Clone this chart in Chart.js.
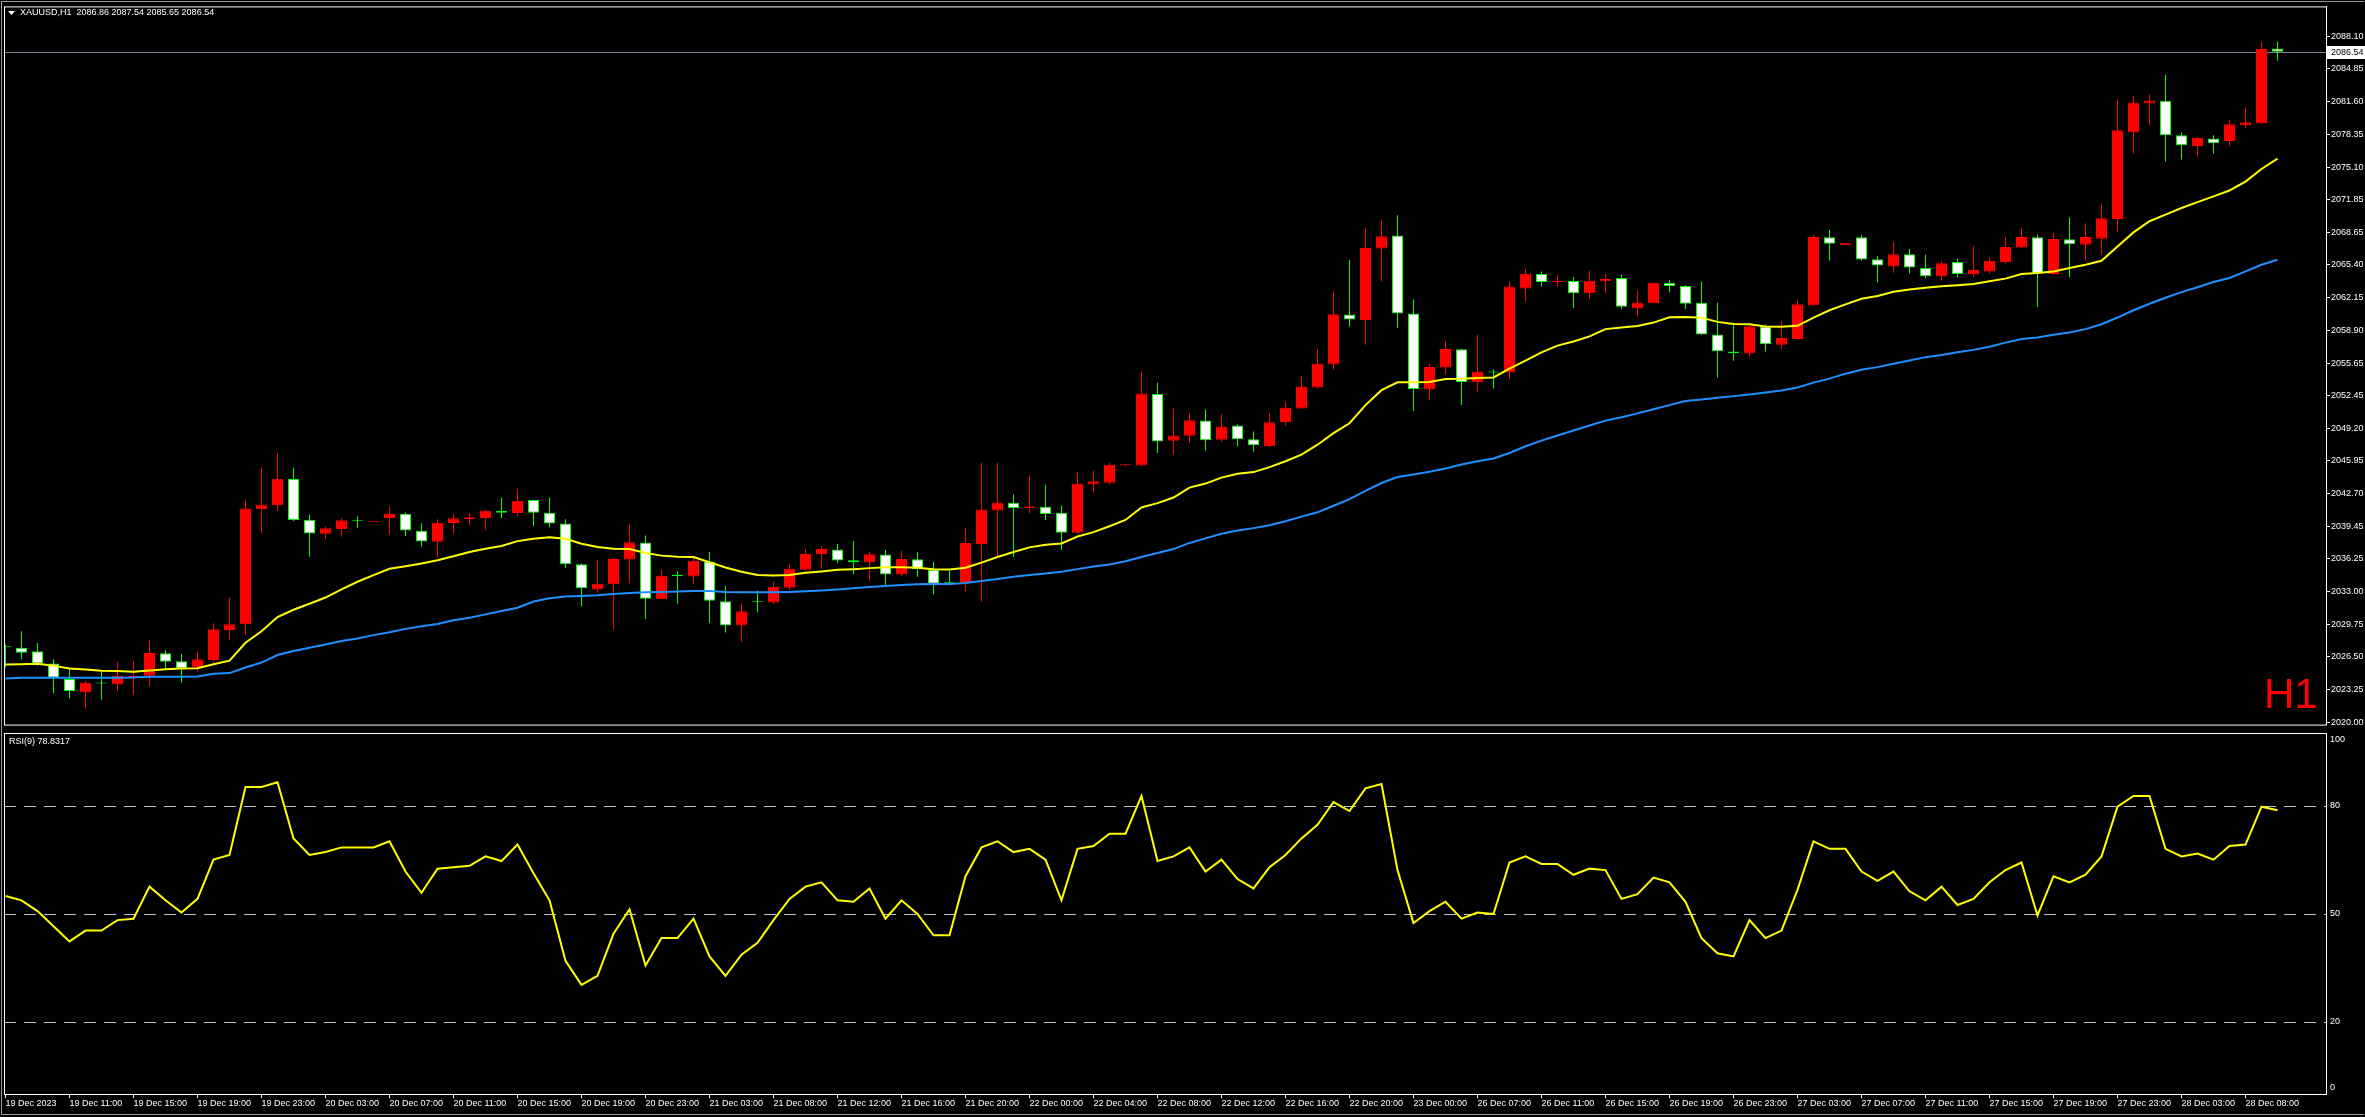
<!DOCTYPE html>
<html><head><meta charset="utf-8">
<script src="https://cdn.jsdelivr.net/npm/chart.js@4.4.1/dist/chart.umd.min.js"></script>
<style>
html,body{margin:0;padding:0;background:#000;width:2365px;height:1117px;overflow:hidden;}
#main{position:absolute;left:0;top:0;}
#rsi{position:absolute;left:0;top:731px;}
#outer{position:absolute;left:1px;top:1px;width:2363px;height:1114px;border-left:1px solid #9a9a9a;border-top:1px solid #9a9a9a;border-bottom:1px solid #9a9a9a;box-sizing:border-box;pointer-events:none;}
</style></head><body>
<div id="outer"></div>
<canvas id="main" width="2365" height="731"></canvas>
<canvas id="rsi" width="2365" height="386"></canvas>
<script>
// ---------- DATA ----------
const symbolName = 'XAUUSD,H1';
const timeframeMark = 'H1';
const rsiName = 'RSI(9)';

const open = [2027.49,2027.40,2027.04,2025.83,2024.29,2022.98,2023.90,2023.77,2024.45,2024.62,
2026.85,2026.06,2025.44,2026.19,2029.17,2029.73,2041.16,2041.55,2044.14,2040.11,
2038.70,2039.19,2039.98,2039.91,2040.27,2040.70,2039.00,2037.91,2039.78,2040.17,
2040.27,2040.99,2040.76,2042.07,2040.80,2039.72,2035.69,2033.18,2033.69,2036.15,
2037.85,2032.22,2034.54,2034.48,2035.95,2032.02,2029.60,2031.95,2031.89,2033.36,
2035.13,2036.70,2037.16,2036.08,2035.85,2036.64,2034.67,2036.18,2035.13,2033.82,
2033.79,2037.69,2041.03,2041.78,2041.26,2041.39,2040.80,2038.80,2043.62,2043.78,
2045.50,2045.48,2052.59,2047.94,2048.44,2049.94,2048.04,2049.45,2048.08,2047.42,
2049.81,2051.15,2053.22,2055.51,2060.46,2059.93,2067.01,2068.32,2060.56,2053.02,
2055.22,2057.02,2053.74,2054.76,2054.72,2063.04,2064.49,2063.70,2063.80,2062.59,
2063.77,2064.09,2061.08,2061.60,2063.60,2063.31,2061.64,2058.49,2056.79,2056.59,
2059.28,2057.48,2058.04,2061.38,2068.13,2067.37,2068.13,2065.96,2065.24,2066.45,
2065.08,2064.26,2065.67,2064.46,2064.75,2065.67,2067.11,2068.13,2064.49,2067.93,
2067.40,2067.99,2069.96,2078.57,2081.42,2081.69,2078.25,2077.20,2077.95,2077.69,
2079.26,2079.46,2086.86];
const high = [2027.73,2029.04,2027.86,2026.26,2025.27,2024.13,2025.08,2026.02,2026.09,2028.15,
2027.17,2026.78,2026.98,2029.83,2032.38,2042.01,2045.25,2046.73,2045.25,2040.63,
2039.42,2040.24,2040.44,2039.97,2041.42,2040.83,2039.75,2040.14,2040.63,2040.80,
2041.12,2042.31,2043.19,2042.11,2042.30,2040.14,2035.75,2036.12,2036.34,2039.65,
2038.54,2035.13,2035.00,2036.31,2036.90,2033.53,2031.76,2033.07,2033.95,2035.69,
2037.19,2037.49,2037.69,2037.98,2036.90,2037.10,2037.00,2036.90,2035.92,2035.07,
2039.26,2045.74,2045.74,2042.60,2044.47,2043.58,2041.52,2044.86,2044.96,2045.74,
2045.58,2054.78,2053.70,2051.15,2050.66,2051.06,2050.57,2049.58,2048.86,2050.66,
2051.84,2054.40,2057.05,2062.75,2065.89,2069.04,2069.82,2070.32,2061.96,2055.58,
2057.84,2057.05,2058.43,2055.05,2063.73,2065.01,2064.75,2064.42,2064.19,2064.81,
2064.52,2064.42,2062.85,2063.63,2063.93,2063.40,2063.73,2061.64,2059.67,2059.34,
2059.48,2059.84,2061.87,2068.42,2068.85,2067.54,2068.35,2066.29,2067.67,2066.98,
2066.39,2065.80,2066.00,2067.27,2066.16,2068.16,2069.04,2068.42,2068.62,2070.12,
2069.53,2071.40,2081.75,2082.21,2082.31,2084.27,2078.57,2078.08,2078.25,2079.75,
2080.97,2087.52,2087.54];
const low = [2025.44,2026.26,2025.60,2022.88,2022.39,2021.41,2022.23,2023.14,2022.72,2023.57,
2025.27,2023.96,2025.01,2025.93,2028.19,2028.65,2038.77,2040.96,2039.98,2036.44,
2038.21,2038.41,2039.29,2039.88,2038.60,2038.50,2037.42,2036.41,2038.70,2039.59,
2039.09,2040.27,2040.47,2039.49,2039.36,2035.33,2031.50,2032.85,2029.20,2033.79,
2030.25,2032.20,2031.76,2033.69,2029.86,2028.90,2028.00,2030.91,2031.73,2033.13,
2035.03,2035.20,2035.82,2034.67,2034.08,2033.56,2034.51,2034.45,2032.71,2033.72,
2032.97,2031.99,2036.41,2036.41,2040.77,2040.08,2037.13,2038.77,2042.83,2043.62,
2045.45,2045.45,2046.73,2046.56,2047.71,2046.96,2047.85,2047.36,2046.86,2047.29,
2049.42,2051.15,2053.12,2055.02,2059.25,2057.48,2063.77,2059.15,2050.89,2051.97,
2054.53,2051.48,2052.83,2053.12,2054.10,2061.77,2063.24,2063.27,2061.11,2062.00,
2062.59,2061.01,2060.33,2061.60,2062.68,2061.01,2058.49,2054.23,2055.87,2056.30,
2056.79,2057.05,2058.04,2061.31,2065.83,2067.37,2065.80,2063.67,2064.62,2064.55,
2064.10,2063.83,2064.16,2064.16,2064.55,2065.54,2067.04,2061.21,2064.36,2064.16,
2065.83,2066.39,2068.68,2076.45,2079.26,2075.66,2075.86,2076.15,2076.45,2077.20,
2079.00,2079.39,2085.65];
const close = [2027.45,2026.91,2025.83,2024.42,2023.11,2023.93,2023.86,2024.62,2024.62,2026.88,
2026.02,2025.34,2026.26,2029.24,2029.73,2041.22,2041.62,2044.17,2040.08,2038.73,
2039.26,2040.04,2039.95,2039.95,2040.73,2039.03,2037.95,2039.81,2040.24,2040.34,
2040.99,2040.80,2041.98,2040.80,2039.72,2035.69,2033.30,2033.74,2036.21,2037.88,
2032.25,2034.54,2034.51,2036.02,2032.05,2029.60,2031.01,2031.92,2033.46,2035.23,
2036.70,2037.19,2036.05,2035.89,2036.67,2034.67,2036.21,2035.20,2033.76,2033.79,
2037.79,2041.13,2041.81,2041.26,2041.42,2040.67,2038.80,2043.68,2043.91,2045.55,
2045.55,2052.62,2047.87,2048.46,2049.98,2047.98,2049.35,2048.08,2047.49,2049.78,
2051.22,2053.32,2055.58,2060.49,2059.97,2067.07,2068.25,2060.56,2053.09,2055.25,
2057.05,2053.78,2054.79,2054.72,2063.24,2064.52,2063.70,2063.83,2062.59,2063.83,
2064.00,2061.24,2061.67,2063.63,2063.31,2061.54,2058.49,2056.82,2056.63,2059.31,
2057.51,2058.14,2061.48,2068.16,2067.50,2067.54,2065.93,2065.34,2066.45,2065.14,
2064.26,2065.57,2064.49,2064.88,2065.80,2067.18,2068.16,2064.59,2067.96,2067.44,
2068.16,2070.03,2078.77,2081.52,2081.72,2078.25,2077.26,2077.98,2077.46,2079.36,
2079.56,2086.83,2086.54];
const maFast = [2025.73,2025.75,2025.80,2025.62,2025.34,2025.24,2025.11,2025.08,2025.01,2025.14,
2025.27,2025.34,2025.37,2025.76,2026.12,2027.89,2029.04,2030.45,2031.17,2031.76,
2032.38,2033.20,2033.95,2034.61,2035.23,2035.49,2035.75,2036.08,2036.47,2036.90,
2037.23,2037.49,2037.98,2038.21,2038.37,2038.21,2037.72,2037.39,2037.23,2037.20,
2036.80,2036.54,2036.44,2036.41,2035.89,2035.36,2034.94,2034.61,2034.58,2034.61,
2034.84,2034.97,2035.13,2035.20,2035.30,2035.39,2035.39,2035.33,2035.20,2035.17,
2035.33,2035.85,2036.41,2036.90,2037.36,2037.62,2037.75,2038.44,2038.87,2039.46,
2040.08,2041.32,2041.75,2042.31,2043.29,2043.69,2044.28,2044.67,2044.83,2045.32,
2045.91,2046.57,2047.55,2048.70,2049.68,2051.48,2052.96,2053.74,2053.74,2053.78,
2054.07,2054.10,2054.17,2054.23,2055.09,2055.90,2056.72,2057.38,2057.80,2058.30,
2059.02,2059.18,2059.34,2059.67,2060.19,2060.23,2060.16,2059.74,2059.54,2059.51,
2059.28,2059.25,2059.35,2060.17,2060.89,2061.48,2062.03,2062.30,2062.72,2062.95,
2063.12,2063.28,2063.38,2063.51,2063.77,2064.03,2064.49,2064.59,2064.75,2065.08,
2065.41,2065.80,2067.21,2068.62,2069.73,2070.39,2071.04,2071.63,2072.19,2072.78,
2073.66,2074.91,2075.95];
const maSlow = [2024.35,2024.42,2024.42,2024.42,2024.42,2024.42,2024.42,2024.42,2024.45,2024.52,
2024.52,2024.52,2024.55,2024.81,2024.88,2025.44,2025.93,2026.68,2027.07,2027.40,
2027.73,2028.06,2028.32,2028.65,2028.94,2029.27,2029.53,2029.76,2030.12,2030.38,
2030.71,2031.04,2031.37,2031.99,2032.31,2032.48,2032.54,2032.61,2032.74,2032.84,
2032.90,2032.94,2032.97,2033.03,2033.03,2032.94,2032.90,2032.90,2032.90,2032.94,
2033.00,2033.07,2033.17,2033.30,2033.43,2033.53,2033.63,2033.69,2033.72,2033.72,
2033.82,2034.02,2034.21,2034.45,2034.61,2034.77,2034.94,2035.20,2035.46,2035.66,
2035.99,2036.41,2036.80,2037.19,2037.80,2038.25,2038.71,2039.04,2039.27,2039.56,
2039.96,2040.41,2040.84,2041.49,2042.15,2042.97,2043.75,2044.34,2044.60,2044.87,
2045.19,2045.59,2045.91,2046.18,2046.73,2047.39,2047.95,2048.47,2048.96,2049.45,
2049.94,2050.27,2050.66,2051.06,2051.48,2051.88,2052.04,2052.20,2052.37,2052.53,
2052.73,2052.93,2053.22,2053.71,2054.11,2054.60,2054.99,2055.25,2055.58,2055.91,
2056.24,2056.46,2056.73,2056.96,2057.28,2057.68,2058.04,2058.20,2058.46,2058.69,
2059.02,2059.51,2060.17,2060.89,2061.54,2062.13,2062.69,2063.18,2063.70,2064.10,
2064.75,2065.41,2065.90];
const rsi = [55.0,53.8,50.8,46.6,42.4,45.4,45.4,48.3,48.7,57.6,
53.8,50.4,54.2,65.1,66.4,85.3,85.3,86.6,71.0,66.4,
67.2,68.5,68.5,68.5,70.2,61.8,55.9,62.6,63.0,63.4,
66.0,64.7,69.3,61.3,53.8,37.0,30.3,32.8,44.5,51.3,
35.7,43.3,43.3,48.7,38.2,32.8,38.7,42.0,48.3,54.2,
57.6,58.8,53.8,53.4,57.1,48.7,53.8,50.0,44.1,44.1,
60.5,68.5,70.2,67.2,68.1,65.1,53.8,68.1,68.9,72.3,
72.3,82.8,64.7,66.0,68.5,61.8,65.1,59.7,57.1,63.0,
66.4,71.0,74.8,81.1,78.6,84.9,86.1,62.2,47.5,50.8,
53.4,48.7,50.4,50.0,64.3,66.0,63.9,63.9,60.9,62.6,
62.2,54.2,55.5,60.1,58.8,53.4,43.3,39.1,38.2,48.3,
43.3,45.4,56.7,70.2,68.1,68.1,61.8,59.2,61.8,56.3,
53.8,57.6,52.5,54.2,58.8,62.2,64.3,49.6,60.5,58.8,
60.9,66.0,79.8,82.8,82.8,68.1,66.0,66.8,65.1,68.9,
69.3,79.8,78.8317];
const priceTicks = [2088.10,2084.85,2081.60,2078.35,2075.10,2071.85,2068.65,2065.40,2062.15,2058.90,2055.65,
2052.45,2049.20,2045.95,2042.70,2039.45,2036.25,2033.00,2029.75,2026.50,2023.25,2020.00];
const rsiTicks = [100, 80, 50, 20, 0];
const rsiLevels = [80, 50, 20];
const timeLabels = ['19 Dec 2023','19 Dec 11:00','19 Dec 15:00','19 Dec 19:00','19 Dec 23:00',
'20 Dec 03:00','20 Dec 07:00','20 Dec 11:00','20 Dec 15:00','20 Dec 19:00','20 Dec 23:00',
'21 Dec 03:00','21 Dec 08:00','21 Dec 12:00','21 Dec 16:00','21 Dec 20:00',
'22 Dec 00:00','22 Dec 04:00','22 Dec 08:00','22 Dec 12:00','22 Dec 16:00','22 Dec 20:00',
'23 Dec 00:00','26 Dec 07:00','26 Dec 11:00','26 Dec 15:00','26 Dec 19:00','26 Dec 23:00',
'27 Dec 03:00','27 Dec 07:00','27 Dec 11:00','27 Dec 15:00','27 Dec 19:00','27 Dec 23:00',
'28 Dec 03:00','28 Dec 08:00'];
const barsPerTimeLabel = 4;

// ---------- SETUP ----------
const FONT = '"Liberation Sans", Arial, sans-serif';
Chart.defaults.font.family = FONT;
Chart.defaults.font.size = 9;
Chart.defaults.color = '#ffffff';
Chart.defaults.animation = false;

const N = close.length;
const BAR_PX = 16;
const PLOT_W = 2322;
const XMIN = -1.5 / BAR_PX;
const XMAX = XMIN + PLOT_W / BAR_PX;
const idx = close.map((_, i) => i);
const isBull = i => close[i] >= open[i];
const edgeColor = c => isBull(c.dataIndex) ? '#ff0000' : '#00ff00';
const bodyColor = c => {
  const i = c.dataIndex;
  if (isBull(i)) return '#ff0000';
  return Math.abs(open[i] - close[i]) < 0.1 ? '#00ff00' : '#ffffff';
};
const xScale = (display) => ({
  type: 'linear', min: XMIN, max: XMAX, display: display, offset: false
});

const mainDecor = {
  id: 'mainDecor',
  beforeDatasetsDraw(chart) {
    const {ctx, chartArea: a, scales: {y}} = chart;
    const py = Math.round(y.getPixelForValue(close[N - 1])) + 0.5;
    ctx.save();
    ctx.strokeStyle = '#778899'; ctx.lineWidth = 1;
    ctx.beginPath(); ctx.moveTo(a.left, py); ctx.lineTo(a.right, py); ctx.stroke();
    ctx.restore();
  },
  afterDraw(chart) {
    const {ctx, chartArea: a, scales: {y}} = chart;
    ctx.save();
    // frame
    ctx.strokeStyle = '#ffffff'; ctx.lineWidth = 1;
    ctx.strokeRect(a.left + 0.5, a.top + 0.5, a.right - a.left, a.bottom - a.top);
    // title
    ctx.fillStyle = '#ffffff';
    ctx.beginPath(); ctx.moveTo(8, 11); ctx.lineTo(15, 11); ctx.lineTo(11.5, 15); ctx.closePath(); ctx.fill();
    ctx.font = '9px ' + FONT; ctx.textBaseline = 'middle'; ctx.textAlign = 'left';
    const last = N - 1;
    const title = symbolName + '  ' + [open[last], high[last], low[last], close[last]].map(v => v.toFixed(2)).join(' ');
    ctx.fillText(title, 20, 13);
    // timeframe mark
    ctx.fillStyle = '#ff0000';
    ctx.font = '42px ' + FONT; ctx.textBaseline = 'alphabetic';
    ctx.fillText(timeframeMark, 2264, 708);
    // current price box
    const py = Math.round(y.getPixelForValue(close[last]));
    ctx.fillStyle = '#ffffff';
    ctx.fillRect(a.right + 1, py - 6, 2365 - a.right - 1, 13);
    ctx.fillStyle = '#000000';
    ctx.font = '9px ' + FONT; ctx.textBaseline = 'middle';
    ctx.fillText(close[last].toFixed(2), a.right + 5, py + 0.5);
    ctx.restore();
  }
};

new Chart(document.getElementById('main'), {
  type: 'bar',
  data: {
    datasets: [
      { type: 'line', data: idx.map(i => ({x: i, y: maFast[i]})), borderColor: '#ffff00', borderWidth: 2, pointRadius: 0, tension: 0, order: 0 },
      { type: 'line', data: idx.map(i => ({x: i, y: maSlow[i]})), borderColor: '#1e90ff', borderWidth: 2, pointRadius: 0, tension: 0, order: 1 },
      { type: 'bar', data: idx.map(i => ({x: i, y: [open[i], close[i]]})), backgroundColor: bodyColor, borderColor: edgeColor,
        borderWidth: 1, borderSkipped: false, barThickness: 11, grouped: false, minBarLength: 1, inflateAmount: 0, order: 2 },
      { type: 'bar', data: idx.map(i => ({x: i, y: [low[i], high[i]]})), backgroundColor: edgeColor,
        borderWidth: 0, barThickness: 1, grouped: false, inflateAmount: 0, order: 3 }
    ]
  },
  options: {
    responsive: false, devicePixelRatio: 1, events: [],
    layout: { padding: { left: 4, top: 4, right: 0, bottom: 1 } },
    plugins: { legend: { display: false }, tooltip: { enabled: false } },
    scales: {
      x: xScale(false),
      y: {
        type: 'linear', position: 'right', min: 2019.77, max: 2091.05,
        afterBuildTicks: s => { s.ticks = priceTicks.map(v => ({value: v})); },
        afterFit: s => { s.width = 39; },
        ticks: { autoSkip: false, padding: 1, color: '#ffffff', callback: v => Number(v).toFixed(2) },
        grid: { drawOnChartArea: false, drawTicks: true, tickLength: 4, tickColor: '#ffffff', color: '#ffffff' },
        border: { display: true, color: '#ffffff' }
      }
    }
  },
  plugins: [mainDecor]
});

const rsiDecor = {
  id: 'rsiDecor',
  beforeDatasetsDraw(chart) {
    const {ctx, chartArea: a, scales: {y}} = chart;
    ctx.save();
    ctx.strokeStyle = '#c0c0c0'; ctx.lineWidth = 1; ctx.setLineDash([12, 8]);
    rsiLevels.forEach(l => {
      const py = Math.round(y.getPixelForValue(l)) + 0.5;
      ctx.beginPath(); ctx.moveTo(a.left, py); ctx.lineTo(a.right, py); ctx.stroke();
    });
    ctx.restore();
  },
  afterDraw(chart) {
    const {ctx, chartArea: a, scales: {y}} = chart;
    ctx.save();
    ctx.strokeStyle = '#ffffff'; ctx.lineWidth = 1;
    ctx.strokeRect(a.left + 0.5, a.top - 0.5, a.right - a.left, a.bottom - a.top + 1);
    ctx.fillStyle = '#ffffff';
    ctx.font = '9px ' + FONT; ctx.textBaseline = 'middle'; ctx.textAlign = 'left';
    ctx.fillText(rsiName + ' ' + rsi[N - 1].toFixed(4), 9, 11);
    rsiTicks.forEach(t => {
      let py = y.getPixelForValue(t);
      py = Math.min(Math.max(py, a.top + 6), a.bottom - 6);
      ctx.fillText(String(t), a.right + 4, py);
    });
    ctx.restore();
  }
};

new Chart(document.getElementById('rsi'), {
  type: 'line',
  data: {
    datasets: [
      { data: idx.map(i => ({x: i, y: rsi[i]})), borderColor: '#ffff00', borderWidth: 2, pointRadius: 0, tension: 0 }
    ]
  },
  options: {
    responsive: false, devicePixelRatio: 1, events: [],
    layout: { padding: { left: 4, top: 3, right: 0, bottom: 0 } },
    plugins: { legend: { display: false }, tooltip: { enabled: false } },
    scales: {
      x: Object.assign(xScale(true), {
        position: 'bottom',
        afterBuildTicks: s => { s.ticks = timeLabels.map((_, k) => ({value: k * barsPerTimeLabel})); },
        afterFit: s => { s.height = 23; },
        ticks: { autoSkip: false, maxRotation: 0, minRotation: 0, align: 'start', padding: 0, color: '#ffffff',
          callback: (v, k) => timeLabels[k] },
        grid: { drawOnChartArea: false, drawTicks: true, tickLength: 4, tickColor: '#ffffff', color: '#ffffff' },
        border: { display: true, color: '#ffffff' }
      }),
      y: {
        type: 'linear', position: 'right', min: 0, max: 100,
        afterBuildTicks: s => { s.ticks = rsiTicks.map(v => ({value: v})); },
        afterFit: s => { s.width = 39; },
        ticks: { display: false },
        grid: { drawOnChartArea: false, drawTicks: false },
        border: { display: true, color: '#ffffff' }
      }
    }
  },
  plugins: [rsiDecor]
});
</script>
</body></html>
